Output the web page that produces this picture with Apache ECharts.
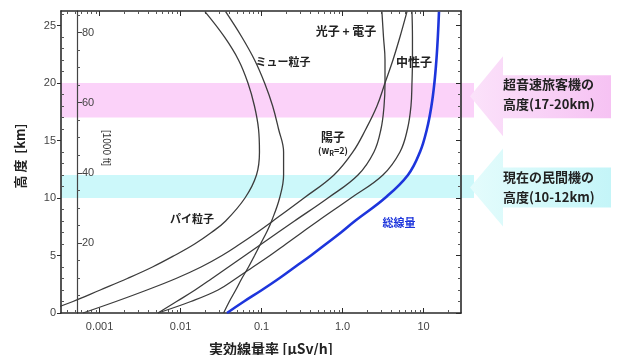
<!DOCTYPE html>
<html><head><meta charset="utf-8">
<script src="https://cdn.jsdelivr.net/npm/echarts@6/dist/echarts.min.js"></script>
<style>html,body{margin:0;padding:0;background:#fff}#c{width:619px;height:355px}</style>
</head><body><div id="c"></div>
<script>
// ---- data (effective dose rate in µSv/h vs altitude in km) ----
const altitudeKm = [0,1,2,3,4,5,6,7,8,10,12,14,16,18,20,22,24,26.2];
const pion = [0.00019,0.00047,0.00102,0.0022,0.0045,0.0084,0.0149,0.024,0.036,0.0624,0.0865,0.0942,0.0917,0.0817,0.0679,0.0519,0.0348,0.020];
const muon = [0.034,0.040,0.048,0.057,0.069,0.082,0.097,0.115,0.133,0.167,0.187,0.187,0.162,0.137,0.109,0.082,0.057,0.036];
const proton = [0.000625,0.00159,0.00385,0.00878,0.0179,0.0325,0.0541,0.0877,0.138,0.334,0.783,1.34,1.94,2.66,3.34,4.19,5.11,6.24];
const photonElectron = [0.00526,0.00893,0.0151,0.0244,0.039,0.0624,0.0997,0.159,0.255,0.660,1.55,2.44,2.98,3.25,3.34,3.34,3.2,3.06];
const neutron = [0.00526,0.0134,0.0290,0.0483,0.0783,0.127,0.200,0.315,0.497,1.27,3.15,5.11,6.33,6.99,7.19,7.29,7.29,7.19];
const total = [0.0374,0.0606,0.101,0.164,0.258,0.407,0.624,0.955,1.42,3.34,6.42,9.03,11.0,12.5,13.6,14.4,15.0,15.5];

const xTickValues = [0.001,0.01,0.1,1,10];
const xTickLabels = ['0.001','0.01','0.1','1.0','10'];
const yTickValues = [0,5,10,15,20,25];
const ftTickValues = [20,40,60,80];
const supersonicBand = [17,20];
const airlinerBand = [10,12];

// ---- chart ----
const L = Math.log10;
const X_MIN = -3.476, X_MAX = 1.462, Y_MAX = 26.26;
const FT_PER_KM = 1/0.3048;
const pts = vals => altitudeKm.map((h,i)=>[L(vals[i]), h]);
const majorX = xTickValues.map(L);
const minorX = [];
for (let d=-4; d<=1; d++) for (let m=2; m<=9; m++) { const k=d+L(m); if (k>X_MIN && k<X_MAX) minorX.push(k); }
const minorY = []; for (let h=1; h<Y_MAX; h++) if (h%5) minorY.push(h);
const ftMinor = []; for (let f=5; f<Y_MAX*FT_PER_KM; f+=5) if (f%20) ftMinor.push(f);
const axisColor = '#2a2a2a';
const tickFont = {color:'#444', fontSize:11, fontFamily:'Liberation Sans'};
const cjk = '"Noto Sans CJK JP", sans-serif';

const chart = echarts.init(document.getElementById('c'));
const blackLine = {color:'#3c3c3c', width:1.3};
function lineSeries(vals, style){
  return {type:'line', data:pts(vals), smooth:0.4, showSymbol:false, lineStyle:style, xAxisIndex:0, yAxisIndex:0, z:3, silent:true};
}
const hidden = {show:false, onZero:false};
const shown = {show:true, onZero:false, lineStyle:{color:axisColor, width:1.6}};
const xBase = {type:'value', min:X_MIN, max:X_MAX, splitLine:{show:false}, gridIndex:0};
const yBase = {type:'value', min:0, max:Y_MAX, splitLine:{show:false}, gridIndex:0};
chart.setOption({
  animation:false,
  grid:{left:61, top:11, width:400, height:302},
  xAxis:[
    Object.assign({}, xBase, {position:'bottom', axisLine:shown,
      axisTick:{show:true,inside:true,length:5,customValues:majorX,lineStyle:{color:axisColor}},
      axisLabel:Object.assign({customValues:majorX, margin:8, formatter:v=>xTickLabels[Math.round(v)+3]}, tickFont)}),
    Object.assign({}, xBase, {position:'bottom', axisLine:hidden,
      axisTick:{show:true,inside:true,length:3,customValues:minorX,lineStyle:{color:'#555'}}, axisLabel:{show:false}}),
    Object.assign({}, xBase, {position:'top', axisLine:shown,
      axisTick:{show:true,inside:true,length:5,customValues:majorX,lineStyle:{color:axisColor}}, axisLabel:{show:false}}),
    Object.assign({}, xBase, {position:'top', axisLine:hidden,
      axisTick:{show:true,inside:true,length:3,customValues:minorX,lineStyle:{color:'#555'}}, axisLabel:{show:false}})
  ],
  yAxis:[
    Object.assign({}, yBase, {position:'left', axisLine:shown,
      axisTick:{show:true,inside:false,length:4,customValues:yTickValues,lineStyle:{color:axisColor}},
      axisLabel:Object.assign({customValues:yTickValues, margin:5}, tickFont)}),
    Object.assign({}, yBase, {position:'left', axisLine:hidden,
      axisTick:{show:true,inside:true,length:3,customValues:minorY,lineStyle:{color:'#555'}}, axisLabel:{show:false}}),
    Object.assign({}, yBase, {position:'right', axisLine:shown,
      axisTick:{show:true,inside:true,length:5,customValues:yTickValues,lineStyle:{color:axisColor}}, axisLabel:{show:false}}),
    Object.assign({}, yBase, {position:'right', axisLine:hidden,
      axisTick:{show:true,inside:true,length:3,customValues:minorY,lineStyle:{color:'#555'}}, axisLabel:{show:false}}),
    {type:'value', gridIndex:0, min:0, max:Y_MAX*FT_PER_KM, position:'left', offset:-16, splitLine:{show:false},
      axisLine:{show:true,onZero:false,lineStyle:{color:'#444',width:1.2}},
      axisTick:{show:true,inside:true,length:5,customValues:ftTickValues,lineStyle:{color:'#444'}},
      axisLabel:Object.assign({customValues:ftTickValues, inside:true, margin:5}, tickFont)},
    {type:'value', gridIndex:0, min:0, max:Y_MAX*FT_PER_KM, position:'left', offset:-16, splitLine:{show:false},
      axisLine:hidden, axisTick:{show:true,inside:true,length:3,customValues:ftMinor,lineStyle:{color:'#555'}}, axisLabel:{show:false}}
  ],
  series:[
    lineSeries(pion, blackLine),
    lineSeries(muon, blackLine),
    lineSeries(proton, blackLine),
    lineSeries(photonElectron, blackLine),
    lineSeries(neutron, blackLine),
    lineSeries(total, {color:'#1d35dc', width:2.6})
  ]
});

// ---- bands, arrows and labels ----
const yp = h => chart.convertToPixel({yAxisIndex:0}, h);
const xLeft = chart.convertToPixel({xAxisIndex:0}, X_MIN);
const tipX = 470, baseX = 503, endX = 611;
function band(r, color){
  const y1 = yp(r[1]), y2 = yp(r[0]);
  return {type:'rect', z:-5, shape:{x:xLeft, y:y1, width:tipX+4-xLeft, height:y2-y1}, style:{fill:color}, silent:true};
}
function arrow(cy, headHalf, shaftTop, shaftBot, c1, c2){
  return {type:'polygon', z:-4, silent:true,
    shape:{points:[[tipX,cy],[baseX,cy-headHalf],[baseX,shaftTop],[endX,shaftTop],[endX,shaftBot],[baseX,shaftBot],[baseX,cy+headHalf]]},
    style:{fill:new echarts.graphic.LinearGradient(0,0,1,0,[{offset:0,color:c1},{offset:1,color:c2}])}};
}
function txt(x, y, s, opt, rot){
  return {type:'text', x:x, y:y, z:50, silent:true, rotation:rot||0,
    style:Object.assign({text:s, fill:'#222', font:'bold 11px '+cjk, textAlign:'center', textVerticalAlign:'middle'}, opt||{})};
}
const pinkMid = (yp(supersonicBand[0])+yp(supersonicBand[1]))/2;
const cyanMid = (yp(airlinerBand[0])+yp(airlinerBand[1]))/2;
const boxFont = {textAlign:'left', font:'bold 13px '+cjk};
chart.setOption({graphic:[
  band(supersonicBand, '#fbd2f9'),
  band(airlinerBand, '#ccf8fa'),
  arrow(pinkMid-4, 40, pinkMid-25, pinkMid+18, '#fbe2fa', '#f6c2f3'),
  arrow(cyanMid+1, 39, cyanMid-19, cyanMid+21, '#e4fcfc', '#c4f5f8'),
  txt(503, pinkMid-16, '超音速旅客機の', boxFont),
  txt(503, pinkMid+4, '高度(17-20km)', boxFont),
  txt(503, cyanMid-9, '現在の民間機の', boxFont),
  txt(503, cyanMid+11, '高度(10-12km)', boxFont),
  txt(346, 31, '光子 + 電子', {font:'bold 12px '+cjk}),
  txt(283, 62, 'ミュー粒子'),
  txt(414, 62, '中性子', {font:'bold 12px '+cjk}),
  txt(333, 137, '陽子', {font:'bold 12px '+cjk}),
  {type:'text', x:333, y:151, z:50, silent:true, style:{
    text:'{a|(w}{s|R}{a|=2)}', textAlign:'center', textVerticalAlign:'middle',
    rich:{a:{font:'bold 9px '+cjk, fill:'#222'}, s:{font:'bold 7px '+cjk, fill:'#222', padding:[5,0,0,0]}}}},
  txt(192, 219, 'パイ粒子'),
  txt(399, 223, '総線量', {fill:'#1d35dc'}),
  txt(20, 156, '高 度  [km]', {font:'bold 13px '+cjk}, Math.PI/2),
  txt(271, 349, '実効線量率 [μSv/h]', {font:'bold 14px '+cjk}),
  txt(106, 148, '[1000 ft]', {font:'10px Liberation Sans', fill:'#333'}, -Math.PI/2)
]});
</script></body></html>
